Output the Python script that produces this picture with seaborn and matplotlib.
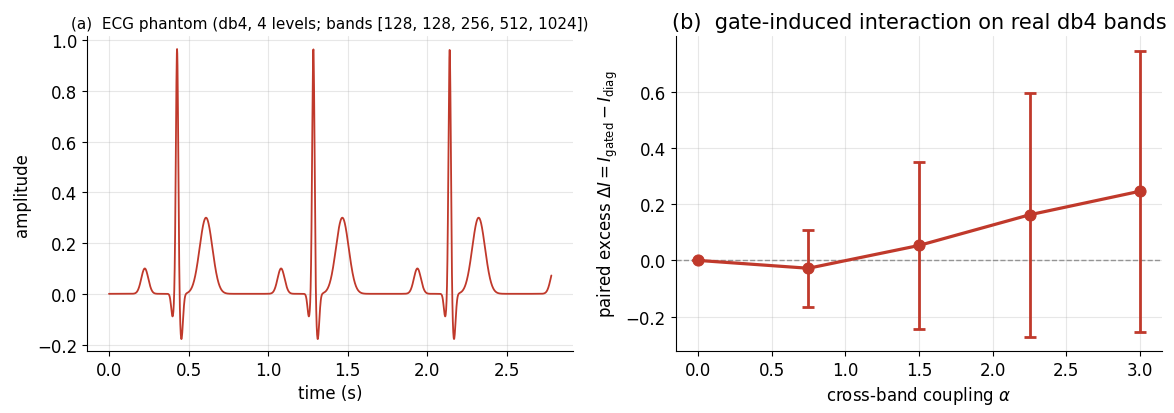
import numpy as np
import pandas as pd
import matplotlib
matplotlib.use("Agg")
import matplotlib.pyplot as plt
import seaborn as sns

# ---- panel (a): ECG phantom, built from per-wave parameters ----
fs = 736.0            # samples per second (2048 samples -> ~2.78 s)
n_samples = 2048
beat_onsets = [0.0, 0.857, 1.714, 2.574]
wave_names = ["P", "Q", "R", "S", "T"]
wave_offset = [0.225, 0.400, 0.428, 0.455, 0.610]   # s after beat onset
wave_amp = [0.10, -0.09, 0.97, -0.18, 0.30]
wave_width = [0.022, 0.009, 0.0075, 0.010, 0.040]  # gaussian sigma, s

# ---- panel (b): paired excess vs coupling ----
alpha = [0.0, 0.75, 1.5, 2.25, 3.0]
excess = [0.0, -0.028, 0.053, 0.162, 0.246]
excess_err = [0.0, 0.137, 0.296, 0.433, 0.500]

red = "#c0392b"

t = np.arange(n_samples) / fs
ecg = np.zeros_like(t)
for onset in beat_onsets:
    for off, a, w in zip(wave_offset, wave_amp, wave_width):
        ecg += a * np.exp(-0.5 * ((t - onset - off) / w) ** 2)
ecg_df = pd.DataFrame({"time": t, "amplitude": ecg})
b_df = pd.DataFrame({"alpha": alpha, "excess": excess, "err": excess_err})

sns.set_style("ticks")
plt.rcParams["font.family"] = ["DejaVu Sans"]
plt.rcParams["axes.grid"] = True
plt.rcParams["grid.alpha"] = 0.3
plt.rcParams["grid.color"] = "#b0b0b0"
plt.rcParams["xtick.labelsize"] = 12
plt.rcParams["ytick.labelsize"] = 12
plt.rcParams["axes.labelsize"] = 12
for key in ["text.color", "axes.labelcolor", "xtick.color", "ytick.color", "axes.edgecolor"]:
    plt.rcParams[key] = "black"

fig, (ax1, ax2) = plt.subplots(1, 2, figsize=(11.74, 4.14), dpi=100)
fig.subplots_adjust(left=0.074, right=0.99, top=0.91, bottom=0.15, wspace=0.21)

sns.lineplot(data=ecg_df, x="time", y="amplitude", ax=ax1, color=red, linewidth=1.3)
ax1.set_xlabel("time (s)")
ax1.set_ylabel("amplitude")
ax1.set_title("(a)  ECG phantom (db4, 4 levels; bands [128, 128, 256, 512, 1024])", fontsize=11)
ax1.set_ylim(-0.225, 1.015)

ax2.axhline(0, color="gray", linestyle="--", linewidth=1, alpha=0.8)
ax2.errorbar(b_df["alpha"], b_df["excess"], yerr=b_df["err"], fmt="none",
             ecolor=red, elinewidth=2, capsize=4, capthick=2)
sns.lineplot(data=b_df, x="alpha", y="excess", ax=ax2, color=red, linewidth=2.3,
             marker="o", markersize=8, markeredgecolor=red)
ax2.set_xlabel(r"cross-band coupling $\alpha$")
ax2.set_ylabel(r"paired excess $\Delta I = I_{\rm gated} - I_{\rm diag}$")
ax2.set_title("(b)  gate-induced interaction on real db4 bands", fontsize=15)
ax2.set_xticks([0.0, 0.5, 1.0, 1.5, 2.0, 2.5, 3.0])
ax2.set_yticks([-0.2, 0.0, 0.2, 0.4, 0.6])

for ax in (ax1, ax2):
    sns.despine(ax=ax)

fig.savefig("out.png", dpi=100)
